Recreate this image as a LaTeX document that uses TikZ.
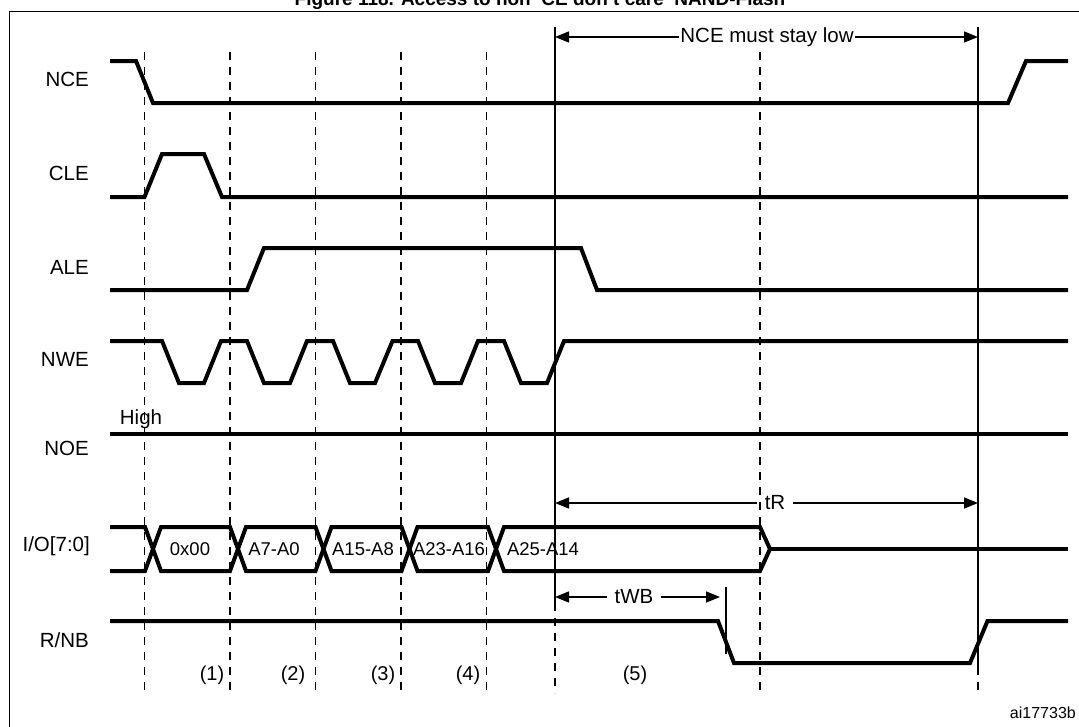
\documentclass[tikz,border=0pt]{standalone}
\usepackage{fontspec}
\setmainfont{Liberation Sans}
\usetikzlibrary{arrows.meta}
\begin{document}
\begin{tikzpicture}[x=1pt,y=-1pt,
  sig/.style={line width=4pt, line join=miter},
  grid/.style={line width=1.8pt, dash pattern=on 8pt off 7pt},
  marker/.style={line width=1.8pt},
  dim/.style={line width=1.4pt, -{Triangle[length=14pt,width=11pt]}},
  siglbl/.style={font=\fontsize{20.5}{20.5}\selectfont, anchor=east, inner sep=0pt},
  buslbl/.style={font=\fontsize{18.5}{18.5}\selectfont, inner sep=0pt},
  dimlbl/.style={font=\fontsize{20.5}{20.5}\selectfont, fill=white},
  perlbl/.style={font=\fontsize{20}{20}\selectfont, inner sep=0pt}]
\useasboundingbox (0,0) rectangle (1079,726);
\fill[white] (0,0) rectangle (1079,726);

% title (mostly cut off at the top, as in the reference)
\node[font=\bfseries\fontsize{19}{19}\selectfont, anchor=base, inner sep=0pt] (title) at (540,5) {Figure 118. Access to non `CE don't care' NAND-Flash};

% frame
\draw[line width=1.6pt] (1080,11.5) -- (9.5,11.5) -- (9.5,727);

% dashed time grid
\foreach \x in {144.5,230,315.5,401,486.5,760}
  \draw[grid] (\x,52) -- (\x,693);
\draw[grid] (555,603) -- (555,693);
\draw[grid] (978,667) -- (978,693);

% solid markers
\coordinate (m1top) at (555,27);
\coordinate (m1bot) at (555,603);
\coordinate (m2top) at (978,27);
\coordinate (m2bot) at (978,667);
\draw[marker] (m1top) -- (m1bot);
\draw[marker] (m2top) -- (m2bot);
\coordinate (twbtop) at (726,587);
\coordinate (twbbot) at (726,654);
\draw[marker] (twbtop) -- (twbbot);

% signal names
\node[siglbl] (lNCE) at (89,79) {NCE};
\node[siglbl] (lCLE) at (89,173) {CLE};
\node[siglbl] (lALE) at (89,267) {ALE};
\node[siglbl] (lNWE) at (89,359) {NWE};
\node[siglbl] (lNOE) at (89,448) {NOE};
\node[siglbl] (lIO) at (90,546) {I/O[7:0]};
\node[siglbl] (lRNB) at (89,640) {R/NB};

% NCE
\draw[sig] (110,61) -- (136,61) -- (153,103) -- (1008,103) -- (1026,61) -- (1068,61);
% CLE
\draw[sig] (110,197) -- (144.5,197) -- (162,154) -- (204,154) -- (222,197) -- (1068,197);
% ALE
\draw[sig] (110,290) -- (247,290) -- (264,248) -- (581,248) -- (597,290) -- (1068,290);
% NWE
\draw[sig] (110,341) -- (162,341) -- (179,383) -- (204,383) -- (221,341) -- (247,341)
  -- (264,383) -- (290,383) -- (307,341) -- (333,341) -- (350,383) -- (375,383)
  -- (392.5,341) -- (418,341) -- (435,383) -- (461,383) -- (478,341) -- (504,341)
  -- (521,383) -- (547,383) -- (564,341) -- (1068,341);
% NOE
\node[font=\fontsize{20.5}{20.5}\selectfont, inner sep=0pt] (high) at (141,419) {High};
\draw[sig] (110,434) -- (1068,434);

% I/O bus
\draw[sig] (110,527) -- (145,527) -- (153,549) -- (145,571) -- (110,571);
\foreach \a/\b in {153/238,238/323.5,323.5/409.5,409.5/496}
  \draw[sig] (\a,549) -- (\a+8,527) -- (\b-8,527) -- (\b,549) -- (\b-8,571) -- (\a+8,571) -- cycle;
\draw[sig] (496,549) -- (504,527) -- (760,527) -- (770,549) -- (760,571) -- (504,571) -- cycle;
\draw[sig] (770,549) -- (1068,549);
\node[buslbl] (d0) at (190,549) {0x00};
\node[buslbl] (d1) at (274,549) {A7-A0};
\node[buslbl] (d2) at (363,549) {A15-A8};
\node[buslbl] (d3) at (449,549) {A23-A16};
\node[buslbl] (d4) at (543,549) {A25-A14};

% R/NB
\draw[sig] (110,621) -- (718,621) -- (734,663) -- (970,663) -- (987.5,621) -- (1068,621);

% dimension arrows
\node[dimlbl, inner sep=1pt] (nce) at (767,37) {NCE must stay low};
\coordinate (nceL) at (555,37);
\coordinate (nceR) at (978,37);
\draw[dim] (nce.west) -- (nceL);
\draw[dim] (nce.east) -- (nceR);

\node[dimlbl, fill=none, inner sep=8pt] (tr) at (775,503) {tR};
\coordinate (trL) at (555,503);
\coordinate (trR) at (978,503);
\draw[dim] (tr.west) -- (trL);
\draw[dim] (tr.east) -- (trR);

\node[dimlbl, inner sep=7pt] (twb) at (634,597) {tWB};
\coordinate (twbL) at (555,597);
\coordinate (twbR) at (720,597);
\draw[dim] (twb.west) -- (twbL);
\draw[dim] (twb.east) -- (twbR);

% period numbers
\node[perlbl] (p1) at (212,675) {(1)};
\node[perlbl] (p2) at (293,675) {(2)};
\node[perlbl] (p3) at (383,675) {(3)};
\node[perlbl] (p4) at (468,675) {(4)};
\node[perlbl] (p5) at (635,675) {(5)};

\node[font=\fontsize{16}{16}\selectfont, anchor=east, inner sep=0pt] (ref) at (1076,713) {ai17733b};
\end{tikzpicture}
\end{document}
